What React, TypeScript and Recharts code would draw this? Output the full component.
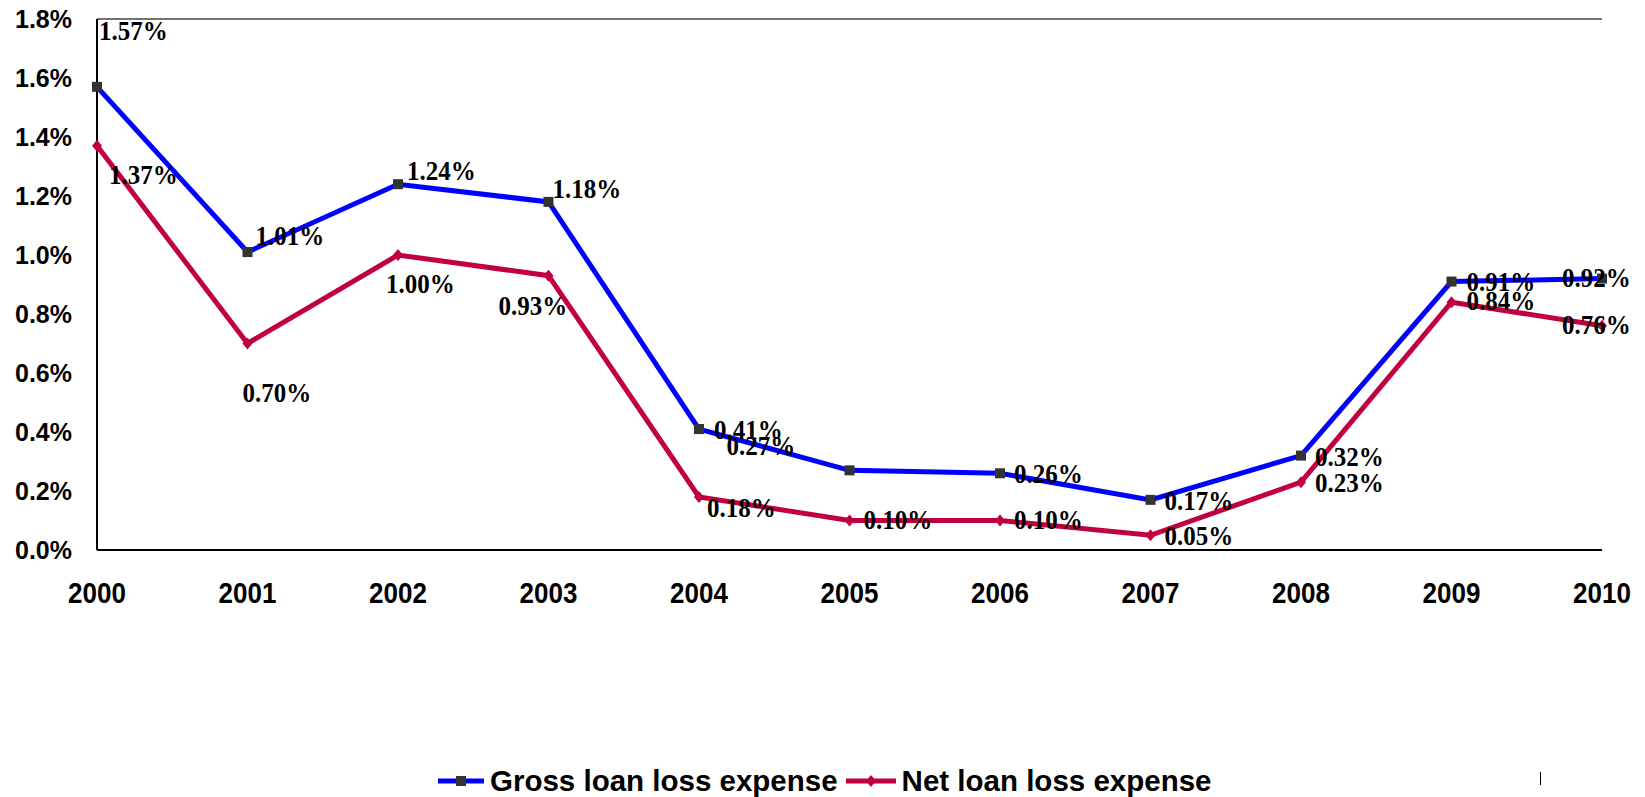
import React from 'react';
import { LineChart, Line, XAxis, YAxis, CartesianGrid, LabelList } from 'recharts';

const years = ['2000', '2001', '2002', '2003', '2004', '2005', '2006', '2007', '2008', '2009', '2010'];
const grossLoss = [1.57, 1.01, 1.24, 1.18, 0.41, 0.27, 0.26, 0.17, 0.32, 0.91, 0.92];
const netLoss = [1.37, 0.7, 1.0, 0.93, 0.18, 0.1, 0.1, 0.05, 0.23, 0.84, 0.76];
const yTicks = [0, 0.2, 0.4, 0.6, 0.8, 1.0, 1.2, 1.4, 1.6, 1.8];

// label placement (offset from the point, like the original excel export)
const grossLabelOffset = [
  [2, -47], [8, -7], [9, -4], [4, -4], [15, 10], [-123, -15],
  [14, 10], [14, 10], [14, 10], [15, 9], [-40, 8],
];
const netLabelOffset = [
  [12, 38], [-5, 58], [-12, 38], [-50, 39], [8, 20], [14, 8],
  [14, 8], [14, 10], [14, 10], [15, 8], [-40, 8],
];

const BLUE = '#0000FF';
const RED = '#C0003F';

const chartData = years.map((y, i) => ({ year: y, gross: grossLoss[i], net: netLoss[i] }));

const makeLabel = (offsets: number[][]) => (props: any) => {
  const { x, y, value, index } = props;
  const [dx, dy] = offsets[index] || [10, 10];
  return (
    <text
      transform={`translate(${x + dx},${y + dy}) scale(1,1.08)`}
      textAnchor="start"
      fill="#000"
      style={{ fontFamily: '"Liberation Serif", "Times New Roman", serif', fontWeight: 700, fontSize: 25 }}
    >
      {`${Number(value).toFixed(2)}%`}
    </text>
  );
};

const SquareDot = (props: any) => {
  const { cx, cy } = props;
  if (cx == null || cy == null) return null;
  return <rect x={cx - 5} y={cy - 5} width={10} height={10} fill="#333333" />;
};

const DiamondDot = (props: any) => {
  const { cx, cy } = props;
  if (cx == null || cy == null) return null;
  return <polygon points={`${cx},${cy - 6} ${cx + 5},${cy} ${cx},${cy + 6} ${cx - 5},${cy}`} fill={RED} />;
};

const YTick = ({ x, y, payload }: any) => (
  <text
    transform={`translate(${x - 17},${y + 9}) scale(1,1.04)`}
    textAnchor="end"
    fill="#000"
    style={{ fontFamily: '"Liberation Sans", Arial, sans-serif', fontWeight: 700, fontSize: 25 }}
  >
    {`${Number(payload.value).toFixed(1)}%`}
  </text>
);

const XTick = ({ x, payload }: any) => (
  <text
    transform={`translate(${x},603) scale(1,1.1)`}
    textAnchor="middle"
    fill="#000"
    style={{ fontFamily: '"Liberation Sans", Arial, sans-serif', fontWeight: 700, fontSize: 26 }}
  >
    {payload.value}
  </text>
);

const legendText = { fontFamily: '"Liberation Sans", Arial, sans-serif', fontWeight: 700, fontSize: 29.5, color: '#000' };

export default function App() {
  return (
    <div style={{ position: 'relative', width: 1645, height: 797, background: '#fff' }}>
      <style>{'body{margin:0}'}</style>
      <LineChart
        width={1645}
        height={797}
        data={chartData}
        margin={{ top: 19, right: 43, left: 0, bottom: 187 }}
      >
        <CartesianGrid vertical={false} stroke="#444" strokeWidth={1.3} />
        <XAxis
          dataKey="year"
          tick={<XTick />}
          tickLine={false}
          axisLine={{ stroke: '#000', strokeWidth: 2 }}
          height={60}
          interval={0}
        />
        <YAxis
          yAxisId="left"
          domain={[0, 1.8]}
          ticks={yTicks}
          tick={<YTick />}
          tickLine={false}
          axisLine={{ stroke: '#000', strokeWidth: 2 }}
          width={97}
          interval={0}
        />
        <YAxis
          yAxisId="right"
          orientation="right"
          domain={[0, 1.8]}
          tick={false}
          tickLine={false}
          axisLine={{ stroke: '#808080', strokeWidth: 2 }}
          width={0}
        />
        <Line
          yAxisId="left"
          dataKey="gross"
          stroke={BLUE}
          strokeWidth={5}
          dot={<SquareDot />}
          activeDot={false}
          isAnimationActive={false}
        >
          <LabelList dataKey="gross" content={makeLabel(grossLabelOffset)} />
        </Line>
        <Line
          yAxisId="left"
          dataKey="net"
          stroke={RED}
          strokeWidth={5}
          dot={<DiamondDot />}
          activeDot={false}
          isAnimationActive={false}
        >
          <LabelList dataKey="net" content={makeLabel(netLabelOffset)} />
        </Line>
      </LineChart>
      <div
        style={{
          position: 'absolute',
          top: 764,
          left: 438,
          display: 'flex',
          alignItems: 'center',
          gap: 6,
          ...legendText,
        }}
      >
        <svg width={46} height={14}>
          <line x1={0} y1={7} x2={46} y2={7} stroke={BLUE} strokeWidth={5} />
          <rect x={18} y={2} width={10} height={10} fill="#333333" />
        </svg>
        <span>Gross loan loss expense</span>
        <svg width={50} height={14} style={{ marginLeft: 2 }}>
          <line x1={0} y1={7} x2={50} y2={7} stroke={RED} strokeWidth={5} />
          <polygon points="25,1 30,7 25,13 20,7" fill={RED} />
        </svg>
        <span>Net loan loss expense</span>
      </div>
      <div style={{ position: 'absolute', top: 772, left: 1540, width: 1, height: 13, background: '#000' }} />
    </div>
  );
}
